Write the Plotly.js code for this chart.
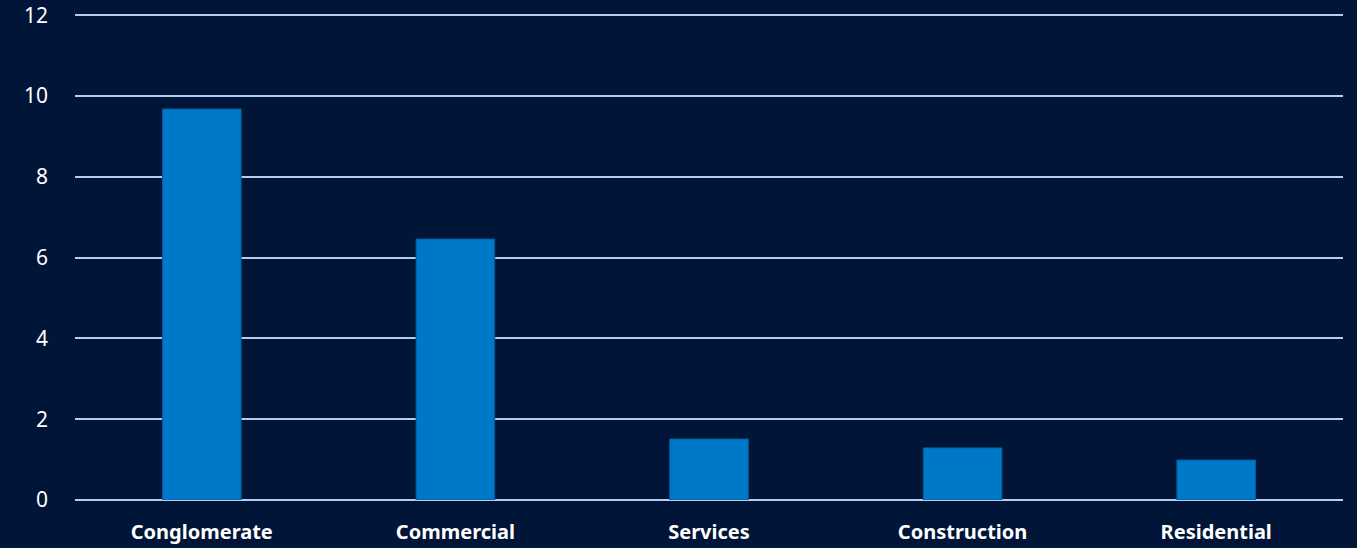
<!DOCTYPE html>
<html><head><meta charset="utf-8">
<script src="https://cdn.plot.ly/plotly-3.0.1.min.js"></script>
<style>html,body{margin:0;padding:0;background:#001538;}</style>
</head><body>
<div id="chart" style="width:1357px;height:548px;"></div>
<script>
const categories = ["Conglomerate", "Commercial", "Services", "Construction", "Residential"];
const values = [9.68, 6.46, 1.51, 1.29, 0.99];
const yTicks = [0, 2, 4, 6, 8, 10, 12];

const trace = {
  type: "bar",
  x: categories,
  y: values,
  marker: {color: "#0078c8", line: {color: "#035a9a", width: 1}},
  hoverinfo: "skip"
};
const layout = {
  width: 1357, height: 548,
  margin: {l: 75, r: 14, t: 14, b: 48},
  paper_bgcolor: "#001538",
  plot_bgcolor: "#001538",
  bargap: 0.69,
  showlegend: false,
  font: {family: "Noto Sans, sans-serif", color: "#ffffff"},
  xaxis: {
    showgrid: false, zeroline: false, showline: false,
    ticks: "outside", ticklen: 14, tickcolor: "rgba(0,0,0,0)",
    tickfont: {size: 20, color: "#ffffff", family: "Noto Sans, sans-serif", weight: "bold"},
    fixedrange: true
  },
  yaxis: {
    range: [0, 12.03], tickvals: yTicks, ticktext: yTicks.map(String),
    showgrid: true, gridcolor: "#b4cdf2", gridwidth: 2,
    zeroline: true, zerolinecolor: "#b4cdf2", zerolinewidth: 2,
    showline: false, ticks: "", ticklabelstandoff: 26,
    tickfont: {size: 21, color: "#ffffff", family: "Noto Sans, sans-serif"},
    fixedrange: true
  }
};
Plotly.newPlot("chart", [trace], layout, {displayModeBar: false, staticPlot: true});
</script>
</body></html>
